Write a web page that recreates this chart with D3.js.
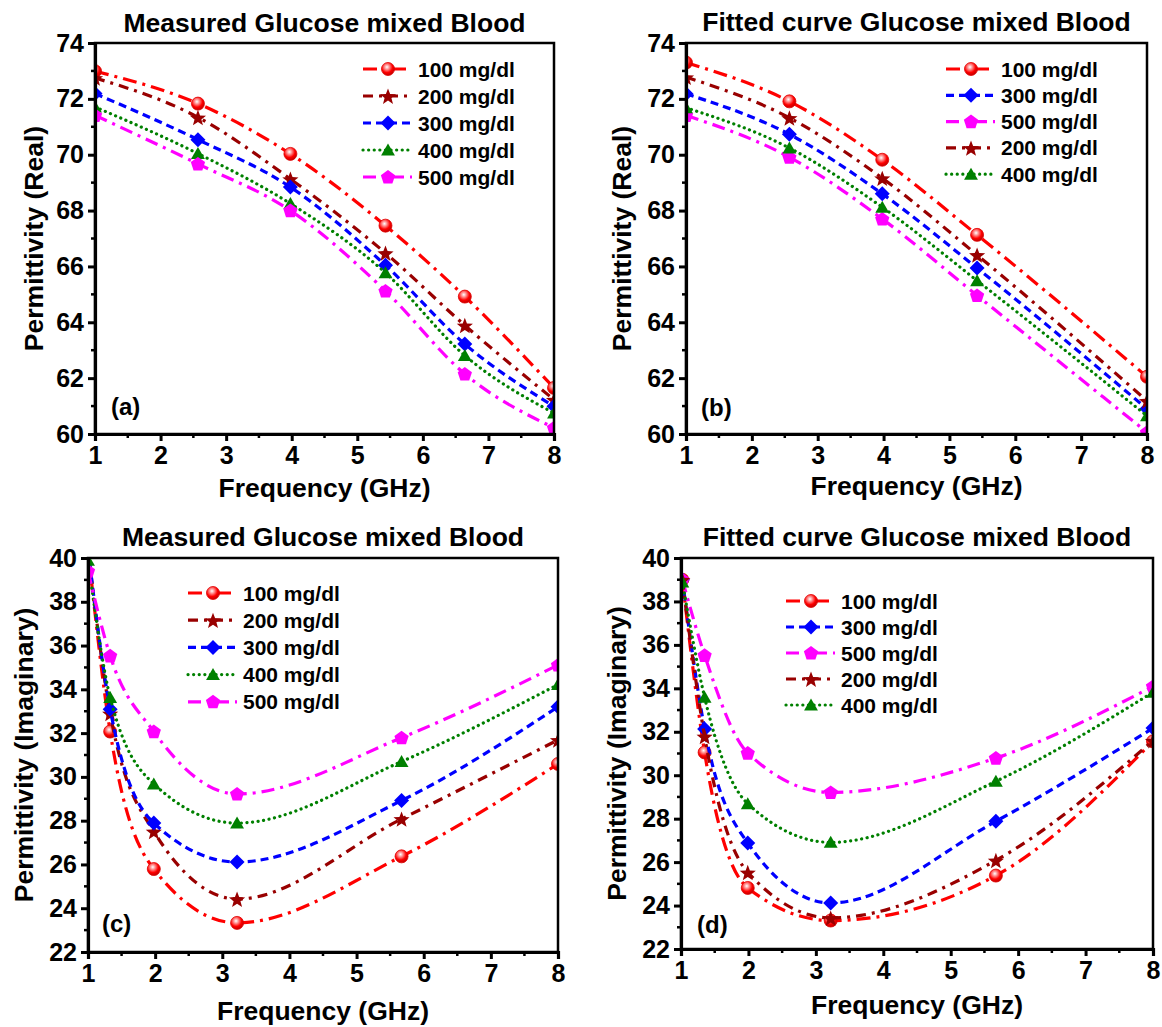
<!DOCTYPE html>
<html>
<head>
<meta charset="utf-8">
<script src="https://cdn.jsdelivr.net/npm/d3@7"></script>
<style>
  body { margin: 0; background: #fff; }
  text { font-family: "Liberation Sans", Arial, sans-serif; font-weight: bold; fill: #000; }
</style>
</head>
<body>
<svg id="chart" width="1162" height="1027"></svg>
<script>
// ---- data ----
const freqMeasReal = [1, 2.57, 3.98, 5.43, 6.64, 8];
const measReal100 = [72.99, 71.83, 70.03, 67.46, 64.92, 61.65];
const measReal200 = [72.75, 71.34, 69.13, 66.48, 63.89, 61.23];
const measReal300 = [72.19, 70.54, 68.84, 66.04, 63.22, 60.99];
const measReal400 = [71.71, 70.04, 68.25, 65.77, 62.81, 60.75];
const measReal500 = [71.41, 69.67, 68.00, 65.12, 62.15, 60.22];

const freqFitReal = [1, 2.57, 3.98, 5.42, 8];
const fitReal100 = [73.30, 71.91, 69.82, 67.13, 62.05];
const fitReal300 = [72.18, 70.73, 68.60, 65.94, 60.90];
const fitReal500 = [71.41, 69.91, 67.70, 64.96, 60.06];
const fitReal200 = [72.78, 71.32, 69.16, 66.41, 61.19];
const fitReal400 = [71.68, 70.24, 68.12, 65.49, 60.65];

const freqMeasImag = [1, 1.33, 1.98, 3.22, 5.67, 8];
const measImag100 = [40.4, 32.07, 25.79, 23.33, 26.37, 30.59];
const measImag200 = [40.4, 32.90, 27.51, 24.42, 28.08, 31.69];
const measImag300 = [40.4, 33.09, 27.89, 26.11, 28.92, 33.20];
const measImag400 = [39.9, 33.63, 29.68, 27.89, 30.70, 34.22];
const measImag500 = [39.4, 35.53, 32.07, 29.22, 31.79, 35.11];

const freqFitImag = [1.02, 1.35, 1.99, 3.22, 5.67, 8];
const fitImag100 = [39.0, 31.05, 24.81, 23.31, 25.38, 31.56];
const fitImag300 = [39.0, 32.13, 26.88, 24.12, 27.88, 32.17];
const fitImag500 = [39.0, 35.52, 31.02, 29.21, 30.79, 34.09];
const fitImag200 = [39.0, 31.79, 25.53, 23.43, 26.08, 31.59];
const fitImag400 = [38.9, 33.59, 28.69, 26.91, 29.72, 33.82];

const xTicks = [1, 2, 3, 4, 5, 6, 7, 8];
const realTicks = [60, 62, 64, 66, 68, 70, 72, 74];
const imagTicks = [22, 24, 26, 28, 30, 32, 34, 36, 38, 40];

// ---- style per concentration ----
const styles = {
  "100": { color: "#ff0000", dash: "14,6,3,6", marker: "sphere" },
  "200": { color: "#990000", dash: "10,6,3,6", marker: "star" },
  "300": { color: "#0000ff", dash: "8,5", marker: "diamond" },
  "400": { color: "#008000", dash: "0.1,5.5", marker: "triangle", cap: "round" },
  "500": { color: "#ff00ff", dash: "13,6,3,6", marker: "pentagon" }
};

const svg = d3.select("#chart");

const defs = svg.append("defs");
const grad = defs.append("radialGradient").attr("id", "sphere")
  .attr("cx", "42%").attr("cy", "35%").attr("r", "65%");
grad.append("stop").attr("offset", "0%").attr("stop-color", "#ffffff");
grad.append("stop").attr("offset", "30%").attr("stop-color", "#ff8a8a");
grad.append("stop").attr("offset", "65%").attr("stop-color", "#ff0000");
grad.append("stop").attr("offset", "100%").attr("stop-color", "#c00000");

function polyPath(n, R, dy) {
  const pts = d3.range(n).map(i => {
    const a = -Math.PI / 2 + i * 2 * Math.PI / n;
    return [R * Math.cos(a), R * Math.sin(a) + (dy || 0)];
  });
  return "M" + pts.join("L") + "Z";
}
function starPath(R, r) {
  const pts = d3.range(10).map(i => {
    const a = -Math.PI / 2 + i * Math.PI / 5;
    const rr = i % 2 ? r : R;
    return [rr * Math.cos(a), rr * Math.sin(a) + 1];
  });
  return "M" + pts.join("L") + "Z";
}

function drawMarker(g, kind, color) {
  if (kind === "sphere") {
    g.append("circle").attr("r", 6.5).attr("fill", "url(#sphere)")
      .attr("stroke", "#e00000").attr("stroke-width", 0.8);
  } else if (kind === "star") {
    g.append("path").attr("d", starPath(8.5, 3.6)).attr("fill", color);
  } else if (kind === "diamond") {
    g.append("path").attr("d", polyPath(4, 7.5)).attr("fill", color);
  } else if (kind === "triangle") {
    g.append("path").attr("d", polyPath(3, 8, 1.5)).attr("fill", color);
  } else if (kind === "pentagon") {
    g.append("path").attr("d", polyPath(5, 7.5, 0.5)).attr("fill", color);
  }
}

const panels = [
  {
    title: "Measured Glucose mixed Blood", ylab: "Permittivity (Real)", tag: "(a)",
    left: 95, right: 554, top: 43, bottom: 434, yDom: [60, 74], yTicks: realTicks,
    freq: freqMeasReal,
    series: [["100", measReal100], ["200", measReal200], ["300", measReal300], ["400", measReal400], ["500", measReal500]],
    titleY: 32, ylabX: 34, xlabY: 497, tagX: 111, tagY: 415,
    legX: 363, legY: 69, legStep: 27
  },
  {
    title: "Fitted curve Glucose mixed Blood", ylab: "Permittivity (Real)", tag: "(b)",
    left: 686, right: 1147, top: 43, bottom: 434, yDom: [60, 74], yTicks: realTicks,
    freq: freqFitReal,
    series: [["100", fitReal100], ["300", fitReal300], ["500", fitReal500], ["200", fitReal200], ["400", fitReal400]],
    titleY: 31, ylabX: 622, xlabY: 495, tagX: 701, tagY: 416,
    legX: 946, legY: 69, legStep: 26.3
  },
  {
    title: "Measured Glucose mixed Blood", ylab: "Permittivity (Imaginary)", tag: "(c)",
    left: 88, right: 558, top: 558, bottom: 952, yDom: [22, 40], yTicks: imagTicks,
    freq: freqMeasImag,
    series: [["100", measImag100], ["200", measImag200], ["300", measImag300], ["400", measImag400], ["500", measImag500]],
    titleY: 546, ylabX: 24, xlabY: 1020, tagX: 102, tagY: 932,
    legX: 188, legY: 593, legStep: 27.2
  },
  {
    title: "Fitted curve Glucose mixed Blood", ylab: "Permittivity (Imaginary)", tag: "(d)",
    left: 681, right: 1153, top: 558, bottom: 949, yDom: [22, 40], yTicks: imagTicks,
    freq: freqFitImag,
    series: [["100", fitImag100], ["300", fitImag300], ["500", fitImag500], ["200", fitImag200], ["400", fitImag400]],
    titleY: 546, ylabX: 617, xlabY: 1014, tagX: 697, tagY: 933,
    legX: 786, legY: 601, legStep: 26
  }
];

panels.forEach((p, k) => {
  const x = d3.scaleLinear().domain([1, 8]).range([p.left, p.right]);
  const y = d3.scaleLinear().domain(p.yDom).range([p.bottom, p.top]);
  const g = svg.append("g");

  // data are clipped to the frame, like the original plot
  defs.append("clipPath").attr("id", "clip" + k).append("rect")
    .attr("x", p.left).attr("y", p.top)
    .attr("width", p.right - p.left).attr("height", p.bottom - p.top);

  // curves
  const plot = g.append("g").attr("clip-path", `url(#clip${k})`);
  const line = d3.line().x(d => x(d[0])).y(d => y(d[1])).curve(d3.curveMonotoneX);
  p.series.forEach(([name, vals]) => {
    const st = styles[name];
    const pts = p.freq.map((f, i) => [f, vals[i]]);
    plot.append("path").datum(pts).attr("d", line)
      .attr("fill", "none").attr("stroke", st.color).attr("stroke-width", 3.2)
      .attr("stroke-dasharray", st.dash).attr("stroke-linecap", st.cap || "butt");
    plot.append("g").selectAll("g").data(pts).join("g")
      .attr("transform", d => `translate(${x(d[0])},${y(d[1])})`)
      .each(function () { drawMarker(d3.select(this), st.marker, st.color); });
  });

  // frame
  g.append("rect").attr("x", p.left).attr("y", p.top)
    .attr("width", p.right - p.left).attr("height", p.bottom - p.top)
    .attr("fill", "none").attr("stroke", "#000").attr("stroke-width", 2.5);

  // bottom axis
  const xMinor = d3.range(1.5, 8, 1);
  const xAx = g.append("g").attr("transform", `translate(0,${p.bottom})`)
    .call(d3.axisBottom(x).tickValues(xTicks).tickFormat(d3.format("d")).tickSize(7).tickPadding(5))
    .call(s => s.select(".domain").attr("stroke-width", 3.2));
  xAx.selectAll(".tick line").attr("stroke-width", 3);
  xAx.selectAll(".tick text").attr("font-size", 25).attr("font-family", "Liberation Sans, Arial, sans-serif").attr("font-weight", "bold");
  g.append("g").selectAll("line").data(xMinor).join("line")
    .attr("x1", d => x(d)).attr("x2", d => x(d))
    .attr("y1", p.bottom).attr("y2", p.bottom + 4)
    .attr("stroke", "#000").attr("stroke-width", 2.5);

  // left axis
  const yMinor = d3.range(p.yDom[0] + 1, p.yDom[1], 2);
  const yAx = g.append("g").attr("transform", `translate(${p.left},0)`)
    .call(d3.axisLeft(y).tickValues(p.yTicks).tickFormat(d3.format("d")).tickSize(7).tickPadding(4))
    .call(s => s.select(".domain").attr("stroke-width", 3.2));
  yAx.selectAll(".tick line").attr("stroke-width", 3);
  yAx.selectAll(".tick text").attr("font-size", 25).attr("font-family", "Liberation Sans, Arial, sans-serif").attr("font-weight", "bold");
  g.append("g").selectAll("line").data(yMinor).join("line")
    .attr("x1", p.left - 4).attr("x2", p.left)
    .attr("y1", d => y(d)).attr("y2", d => y(d))
    .attr("stroke", "#000").attr("stroke-width", 2.5);

  // titles and labels
  const cx = (p.left + p.right) / 2, cy = (p.top + p.bottom) / 2;
  g.append("text").attr("x", cx).attr("y", p.titleY).attr("text-anchor", "middle")
    .attr("font-size", 26.5).text(p.title);
  g.append("text").attr("x", cx).attr("y", p.xlabY).attr("text-anchor", "middle")
    .attr("font-size", 26.5).text("Frequency (GHz)");
  g.append("text").attr("transform", `translate(${p.ylabX},${cy}) rotate(-90)`)
    .attr("text-anchor", "middle").attr("dy", "0.35em")
    .attr("font-size", 26.5).text(p.ylab);
  g.append("text").attr("x", p.tagX).attr("y", p.tagY).attr("font-size", 24).text(p.tag);

  // legend
  p.series.forEach(([name], i) => {
    const st = styles[name];
    const ly = p.legY + i * p.legStep;
    const lg = g.append("g");
    lg.append("line").attr("x1", p.legX).attr("x2", p.legX + 49)
      .attr("y1", ly).attr("y2", ly)
      .attr("stroke", st.color).attr("stroke-width", 3.2)
      .attr("stroke-dasharray", st.dash).attr("stroke-linecap", st.cap || "butt");
    drawMarker(lg.append("g").attr("transform", `translate(${p.legX + 25},${ly})`), st.marker, st.color);
    lg.append("text").attr("x", p.legX + 55).attr("y", ly + 7.5)
      .attr("font-size", 21).text(name + " mg/dl");
  });
});
</script>
</body>
</html>
